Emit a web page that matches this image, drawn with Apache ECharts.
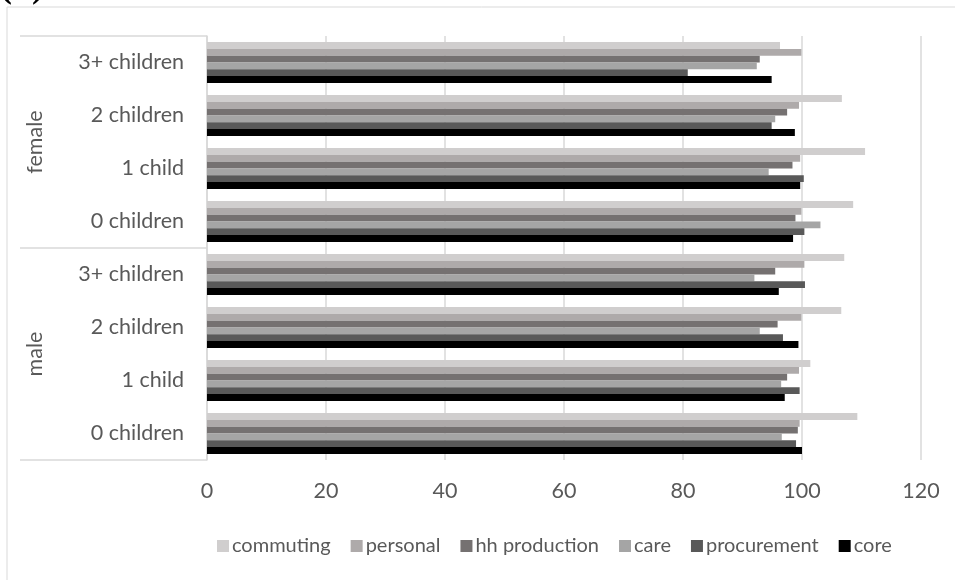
<!DOCTYPE html>
<html>
<head>
<meta charset="utf-8">
<script src="https://cdn.jsdelivr.net/npm/echarts@6/dist/echarts.min.js"></script>
<style>
html,body{margin:0;padding:0;background:#fff;}
#chart{width:955px;height:580px;}
</style>
</head>
<body>
<div id="chart"></div>
<script>
// Categories (bottom to top)
const groups = ['male', 'female'];
const subCategories = ['0 children', '1 child', '2 children', '3+ children'];
const xTicks = [0, 20, 40, 60, 80, 100, 120];

// Series values, order: male 0,1,2,3+, female 0,1,2,3+
const commuting    = [109.3, 101.4, 106.6, 107.1, 108.6, 110.6, 106.7, 96.3];
const personal     = [99.6, 99.5, 99.9, 100.4, 99.9, 99.7, 99.5, 99.9];
const hhProduction = [99.3, 97.5, 95.9, 95.5, 98.9, 98.4, 97.5, 92.9];
const care         = [96.6, 96.5, 92.9, 92.0, 103.1, 94.4, 95.5, 92.4];
const procurement  = [99.0, 99.6, 96.8, 100.5, 100.4, 100.3, 94.9, 80.8];
const core         = [100.0, 97.1, 99.4, 96.1, 98.5, 99.7, 98.8, 94.9];

const seriesNames = ['commuting', 'personal', 'hh production', 'care', 'procurement', 'core'];
const seriesData = [commuting, personal, hhProduction, care, procurement, core];
const seriesColors = ['#d0cece', '#aeaaaa', '#757171', '#a5a5a5', '#595959', '#000000'];

const catKeys = [];
groups.forEach(g => subCategories.forEach(s => catKeys.push(g + '|' + s)));

const FONT = 'Lato';
const FS = 21.5;
const TXT = '#595959';
const LINE = '#d9d9d9';

const chart = echarts.init(document.getElementById('chart'), null, {renderer: 'canvas'});
chart.setOption({
  animation: false,
  backgroundColor: '#ffffff',
  textStyle: {fontFamily: FONT},
  graphic: [
    {type: 'rect', shape: {x: 7, y: 7, width: 1000, height: 1000}, style: {fill: 'none', stroke: LINE, lineWidth: 1}, silent: true},
    {type: 'text', left: 0, top: -30, style: {text: '(b)', font: 'bold 36px "Liberation Serif"', fill: '#000'}}
  ],
  grid: {left: 207, right: 34, top: 36, bottom: 120, containLabel: false},
  legend: {
    data: seriesNames,
    left: 212, top: 531, width: 900,
    icon: 'rect', itemWidth: 12, itemHeight: 12, itemGap: 20,
    textStyle: {fontSize: 20, color: TXT, fontFamily: FONT, padding: [0, 0, 0, -2]}
  },
  xAxis: {
    type: 'value', min: xTicks[0], max: xTicks[xTicks.length - 1], interval: 20,
    axisLine: {show: false}, axisTick: {show: false},
    axisLabel: {fontSize: FS, color: TXT, fontFamily: FONT, margin: 20},
    splitLine: {show: true, lineStyle: {color: LINE, width: 1.5}}
  },
  yAxis: [
    {
      type: 'category', data: catKeys, position: 'left',
      axisLine: {show: true, lineStyle: {color: LINE, width: 1.5}},
      axisTick: {show: false},
      axisLabel: {fontSize: FS, color: TXT, fontFamily: FONT, margin: 23,
        formatter: v => v.split('|')[1]}
    },
    {
      type: 'category', data: groups, position: 'left', offset: 0,
      axisLine: {show: false},
      axisTick: {show: true, length: 187, lineStyle: {color: LINE, width: 1.5}},
      axisLabel: {fontSize: FS, color: TXT, fontFamily: FONT, rotate: 90, margin: 161}
    }
  ],
  series: seriesNames.map((n, i) => ({
    name: n, type: 'bar', data: seriesData[i], yAxisIndex: 0,
    itemStyle: {color: seriesColors[i]},
    barGap: '0%', barCategoryGap: '23%'
  }))
});
</script>
</body>
</html>
